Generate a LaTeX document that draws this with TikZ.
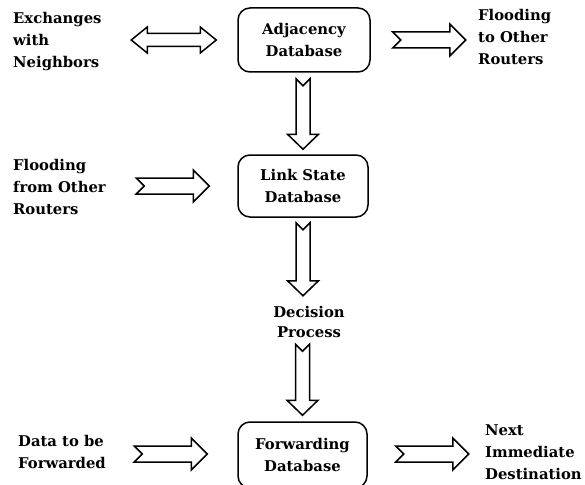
\documentclass[tikz,border=0pt]{standalone}
\usepackage{fontspec}
\setmainfont{DejaVu Serif}
\usetikzlibrary{calc}

% block-arrow geometry
\def\sw{8pt}   % half shaft width
\def\hw{16pt}  % half head width
\def\hl{16pt}  % head length
\def\nd{8pt}   % tail notch depth

% horizontal block arrow with notched tail, pointing right
\newcommand\blockright[2]{%
  \draw[blockarrow] let \p1=(#1), \p2=(#2) in
    (\x1,\y2+\sw) -- (\x2-\hl,\y2+\sw) -- (\x2-\hl,\y2+\hw) -- (\x2,\y2)
    -- (\x2-\hl,\y2-\hw) -- (\x2-\hl,\y2-\sw) -- (\x1,\y2-\sw) -- (\x1+\nd,\y2) -- cycle;}

% vertical block arrow with notched tail, pointing down
\newcommand\blockdown[2]{%
  \draw[blockarrow] let \p1=(#1), \p2=(#2) in
    (\x2-7pt,\y1) -- (\x2-7pt,\y2+15pt) -- (\x2-15.5pt,\y2+15pt) -- (\x2,\y2)
    -- (\x2+15.5pt,\y2+15pt) -- (\x2+7pt,\y2+15pt) -- (\x2+7pt,\y1) -- (\x2,\y1-7pt) -- cycle;}

% two-headed horizontal block arrow
\newcommand\blockboth[2]{%
  \draw[blockarrow] let \p1=(#1), \p2=(#2) in
    (\x1,\y2) -- (\x1+16pt,\y2+13pt) -- (\x1+16pt,\y2+6.5pt) -- (\x2-16pt,\y2+6.5pt)
    -- (\x2-16pt,\y2+13pt) -- (\x2,\y2) -- (\x2-16pt,\y2-13pt) -- (\x2-16pt,\y2-6.5pt)
    -- (\x1+16pt,\y2-6.5pt) -- (\x1+16pt,\y2-13pt) -- cycle;}

\tikzset{
  blockarrow/.style={draw=black, line width=1.5pt, line join=miter, fill=white},
  dbbox/.style={draw=black, line width=1.5pt, rounded corners=12pt, align=center,
    font=\fontsize{14.8}{22}\selectfont\bfseries, inner sep=0pt},
  label/.style={align=left, anchor=west, inner sep=0pt,
    font=\fontsize{14.8}{22}\selectfont\bfseries},
}

\begin{document}
\begin{tikzpicture}[x=1pt, y=-1pt]
  \useasboundingbox[fill=white] (0,0) rectangle (585,484);

  % database boxes
  \node[dbbox, minimum width=132pt, minimum height=64pt] (adj) at (304,40)
    {Adjacency\\Database};
  \node[dbbox, minimum width=130pt, minimum height=62pt] (ls) at (303,186)
    {Link State\\Database};
  \node[dbbox, minimum width=129pt, minimum height=66pt] (fwd) at (302.5,455)
    {Forwarding\\Database};

  % free-standing labels
  \node[label] (exch) at (13,42) {Exchanges\\with\\Neighbors};
  \node[label] (flto) at (478,37) {Flooding\\to Other\\Routers};
  \node[label] (flfrom) at (13,187) {Flooding\\from Other\\Routers};
  \node[align=center, inner sep=0pt, font=\fontsize{14.8}{20}\selectfont\bfseries]
    (dec) at (309,322) {Decision\\Process};
  \node[label] (data) at (18,452) {Data to be\\Forwarded};
  \node[label] (next) at (485,452) {Next\\Immediate\\Destination};

  % horizontal arrows
  \blockboth{$(adj.west)+(-106,0)$}{$(adj.west)+(-21,0)$}
  \blockright{$(adj.east)+(22,0)$}{$(adj.east)+(95,0)$}
  \blockright{$(ls.west)+(-101,0)$}{$(ls.west)+(-28,0)$}
  \blockright{$(fwd.west)+(-103,-1)$}{$(fwd.west)+(-30,-1)$}
  \blockright{$(fwd.east)+(28,-1)$}{$(fwd.east)+(101,-1)$}

  % vertical arrows
  \blockdown{$(adj.south)+(0,6)$}{$(ls.north)+(0,-5)$}
  \blockdown{$(ls.south)+(0,5)$}{$(ls.south)+(0,78)$}
  \blockdown{$(fwd.north)+(0,-77)$}{$(fwd.north)+(0,-6)$}
\end{tikzpicture}
\end{document}
